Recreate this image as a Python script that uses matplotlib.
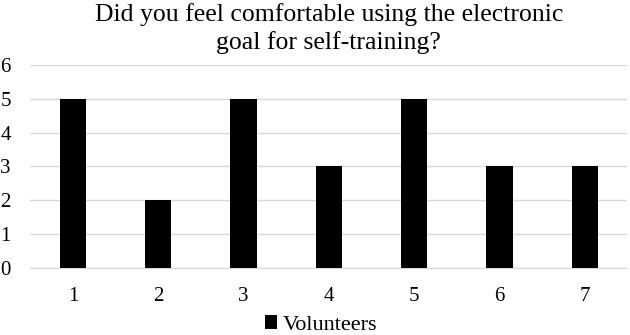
import numpy as np
import matplotlib
matplotlib.use('Agg')
from matplotlib import pyplot as plt

plt.rcParams['font.family'] = ['Liberation Serif', 'DejaVu Serif']

categories = ['1', '2', '3', '4', '5', '6', '7']
volunteers = [5, 2, 5, 3, 5, 3, 3]

fig = plt.figure(figsize=(6.3, 3.35), dpi=100)
ax = fig.add_axes([0.048, 0.2, 0.948, 0.606])

x = np.arange(len(categories))
ax.bar(x, volunteers, width=0.31, color='black', label='Volunteers', zorder=3)

ax.set_xlim(-0.5, len(categories) - 0.5)
ax.set_ylim(0, 6)
ax.set_yticks(range(0, 7))
ax.set_xticks(x)
ax.set_xticklabels(categories)
ax.yaxis.grid(True, color='#d9d9d9', linewidth=1.0, zorder=0)
for s in ['top', 'right', 'left']:
    ax.spines[s].set_visible(False)
ax.spines['bottom'].set_color('#d9d9d9')
ax.tick_params(axis='both', length=0, labelsize=15)
ax.tick_params(axis='x', pad=14)
ax.tick_params(axis='y', pad=14)

ax.set_title('Did you feel comfortable using the electronic\ngoal for self-training?',
             fontsize=18.5, pad=11.5, linespacing=1.3)

fig.legend(loc='center', bbox_to_anchor=(0.509, 0.03), frameon=False,
           fontsize=16, handlelength=0.55, handleheight=0.55, handletextpad=0.25)

fig.savefig('out.png', dpi=100)
